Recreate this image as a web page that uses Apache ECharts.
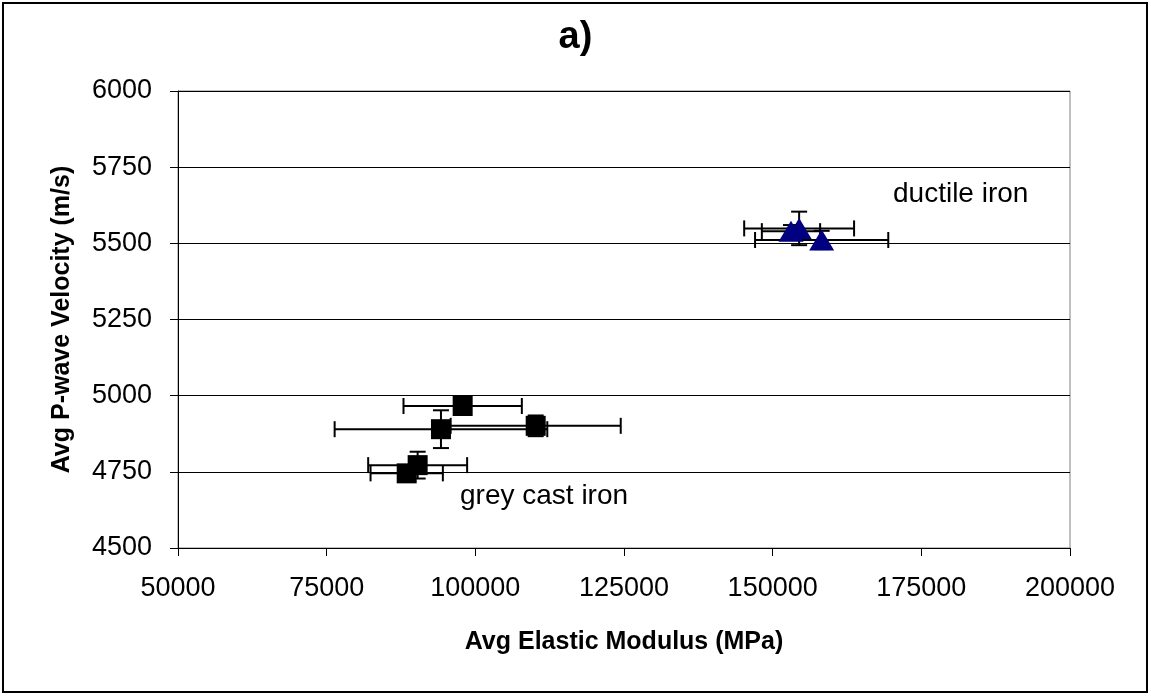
<!DOCTYPE html>
<html>
<head>
<meta charset="utf-8">
<script src="https://cdn.jsdelivr.net/npm/echarts@6/dist/echarts.min.js"></script>
<style>html,body{margin:0;padding:0;background:#fff;}#c{width:1151px;height:698px;}</style>
</head>
<body>
<div id="c"></div>
<script>
// Grey cast iron
const greyX = [97870, 94220, 110150, 90300, 88460];
const greyY = [4966, 4890, 4901, 4772, 4745];
const greyXErr = [9950, 17880, 14300, 8320, 6080];
const greyYErr = [8, 62, 34, 44, 10];
// Ductile iron
const ductX = [154450, 153080, 158240];
const ductY = [5549, 5540, 5511];
const ductXErr = [9240, 4900, 11200];
const ductYErr = [55, 20, 30];

const xTicks = [50000, 75000, 100000, 125000, 150000, 175000, 200000];
const yTicks = [4500, 4750, 5000, 5250, 5500, 5750, 6000];

function errData(xs, ys, xe, ye) {
  return xs.map((x, i) => [x, ys[i], xe[i], ye[i]]);
}
function errRender(params, api) {
  const x = api.value(0), y = api.value(1), xe = api.value(2), ye = api.value(3);
  const c = api.coord([x, y]);
  const l = api.coord([x - xe, y]), r = api.coord([x + xe, y]);
  const t = api.coord([x, y + ye]), b = api.coord([x, y - ye]);
  const cap = 8;
  const st = {stroke: '#000', lineWidth: 2, fill: null};
  const mk = (x1, y1, x2, y2) => ({type: 'line', shape: {x1, y1, x2, y2}, style: st});
  return {type: 'group', children: [
    mk(l[0], c[1], r[0], c[1]),
    mk(l[0], c[1] - cap, l[0], c[1] + cap),
    mk(r[0], c[1] - cap, r[0], c[1] + cap),
    mk(c[0], t[1], c[0], b[1]),
    mk(c[0] - cap, t[1], c[0] + cap, t[1]),
    mk(c[0] - cap, b[1], c[0] + cap, b[1])
  ]};
}

const chart = echarts.init(document.getElementById('c'), null, {renderer: 'canvas'});
const font = 'Liberation Sans, Arial, sans-serif';
chart.setOption({
  animation: false,
  backgroundColor: '#fff',
  title: {text: 'a)', left: 'center', top: 14, textStyle: {fontFamily: font, fontSize: 38, fontWeight: 'bold', color: '#000'}},
  grid: {left: 178, right: 81, top: 91, bottom: 150, show: true, borderColor: '#808080', borderWidth: 1},
  xAxis: {
    type: 'value', min: 50000, max: 200000, interval: 25000,
    name: 'Avg Elastic Modulus (MPa)', nameLocation: 'middle', nameGap: 82,
    nameTextStyle: {fontFamily: font, fontSize: 25, fontWeight: 'bold', color: '#000'},
    axisLine: {show: true, lineStyle: {color: '#000', width: 1}},
    axisTick: {show: true, inside: false, length: 8, lineStyle: {color: '#000'}},
    axisLabel: {fontFamily: font, fontSize: 27, color: '#000', margin: 27, formatter: v => String(v)},
    splitLine: {show: false}
  },
  yAxis: {
    type: 'value', min: 4500, max: 6000, interval: 250,
    name: 'Avg P-wave Velocity (m/s)', nameLocation: 'middle', nameGap: 103,
    nameTextStyle: {fontFamily: font, fontSize: 25, fontWeight: 'bold', color: '#000'},
    axisLine: {show: true, lineStyle: {color: '#000', width: 1}},
    axisTick: {show: true, inside: false, length: 8, lineStyle: {color: '#000'}},
    axisLabel: {fontFamily: font, fontSize: 27, color: '#000', margin: 26, formatter: v => String(v)},
    splitLine: {show: true, lineStyle: {color: '#000', width: 1}}
  },
  series: [
    {type: 'custom', renderItem: errRender, data: errData(greyX, greyY, greyXErr, greyYErr), z: 2, silent: true},
    {type: 'custom', renderItem: errRender, data: errData(ductX, ductY, ductXErr, ductYErr), z: 2, silent: true},
    {type: 'scatter', data: greyX.map((x, i) => [x, greyY[i]]), symbol: 'rect', symbolSize: 20,
     itemStyle: {color: '#000', opacity: 1}, z: 5},
    {type: 'scatter', data: ductX.map((x, i) => [x, ductY[i]]), symbol: 'triangle', symbolSize: [25, 21],
     itemStyle: {color: '#000080', opacity: 1}, z: 5}
  ],
  graphic: [
    {type: 'rect', shape: {x: 3, y: 3, width: 1144, height: 689}, style: {fill: null, stroke: '#000', lineWidth: 2}, z: 0},
    {type: 'text', left: 893, top: 180, style: {text: 'ductile iron', fontFamily: font, fontSize: 28, fill: '#000'}},
    {type: 'text', left: 460, top: 482, style: {text: 'grey cast iron', fontFamily: font, fontSize: 28, fill: '#000'}}
  ]
});
</script>
</body>
</html>
